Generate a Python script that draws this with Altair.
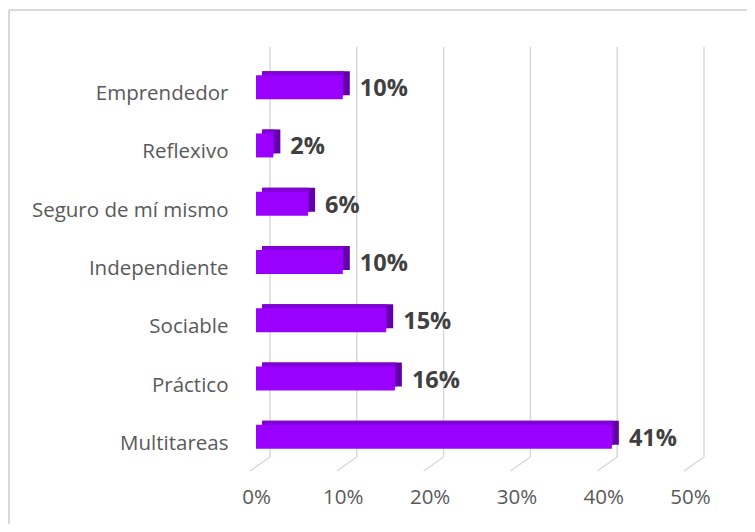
import altair as alt
import pandas as pd

categories = ["Emprendedor", "Reflexivo", "Seguro de mí mismo", "Independiente",
              "Sociable", "Práctico", "Multitareas"]
values = [0.10, 0.02, 0.06, 0.10, 0.15, 0.16, 0.41]
value_labels = ["10%", "2%", "6%", "10%", "15%", "16%", "41%"]
ticks = [0.0, 0.1, 0.2, 0.3, 0.4, 0.5]

df = pd.DataFrame({"cat": categories, "val": values, "zero": [0.0] * len(values),
                   "lab": value_labels})
tdf = pd.DataFrame({"t": ticks})

FONT = "Open Sans"
xscale = alt.Scale(domain=[0, 0.5], nice=False, zero=True)
ysort = categories

x_axis = alt.Axis(format=".0%", values=ticks, grid=False, domain=False, ticks=False,
                  labelFont=FONT, labelFontSize=20.5, labelColor="#595959",
                  labelPadding=22, labelFlush=False, labelBound=False, title=None)
y_axis = alt.Axis(grid=False, domain=False, ticks=False, labelFont=FONT,
                  labelFontSize=20.5, labelColor="#595959", labelPadding=28,
                  labelOffset=8, labelLimit=400, title=None)

GRID = "#d9d9d9"

border_v = alt.Chart(tdf).mark_rule(color=GRID, strokeWidth=2).encode(
    x=alt.value(-247), y=alt.value(-47), y2=alt.value(700))
border_h = alt.Chart(tdf).mark_rule(color=GRID, strokeWidth=2).encode(
    x=alt.value(-247), x2=alt.value(900), y=alt.value(-47))

grid = alt.Chart(tdf).mark_rule(color=GRID, strokeWidth=1.5, xOffset=14).encode(
    x=alt.X("t:Q", scale=xscale, axis=x_axis),
    y=alt.value(-10), y2=alt.value(400))
slant = alt.Chart(tdf).mark_rule(color=GRID, strokeWidth=1.5, xOffset=-6, x2Offset=14).encode(
    x=alt.X("t:Q", scale=xscale),
    x2="t:Q",
    y=alt.value(414), y2=alt.value(400))

y_enc = alt.Y("cat:N", sort=ysort, axis=y_axis, scale=alt.Scale(paddingInner=0, paddingOuter=0))

side = alt.Chart(df).mark_bar(size=24, color="#6300a8", xOffset=7, x2Offset=7, yOffset=-3).encode(
    x=alt.X("zero:Q", scale=xscale), x2="val:Q", y=y_enc)
top = alt.Chart(df).mark_bar(size=24, color="#8200d8", xOffset=6, x2Offset=1, yOffset=-3).encode(
    x=alt.X("zero:Q", scale=xscale), x2="val:Q", y=y_enc)
front = alt.Chart(df).mark_bar(size=24, color="#9900ff", yOffset=1).encode(
    x=alt.X("zero:Q", scale=xscale), x2="val:Q", y=y_enc)
labels = alt.Chart(df).mark_text(align="left", baseline="middle", dx=17, dy=3,
                                 font=FONT, fontSize=23.5, fontWeight="bold",
                                 color="#404040").encode(
    x=alt.X("val:Q", scale=xscale), y=y_enc, text="lab:N")

chart = alt.layer(border_v, border_h, grid, slant, side, top, front, labels).properties(
    width=434, height=408,
    autosize=alt.AutoSizeParams(type="none"),
    padding={"left": 248, "top": 49, "right": 57, "bottom": 59},
).configure_view(stroke=None)

chart.save("out.html", embed_options={"renderer": "svg", "actions": False})
